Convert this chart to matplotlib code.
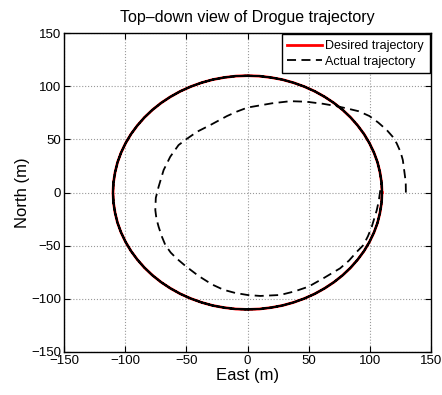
import numpy as np
import matplotlib
matplotlib.use("Agg")
import matplotlib.pyplot as plt

plt.rcParams['font.family'] = ['Liberation Sans', 'DejaVu Sans']

# desired circle (radius 110 m), read every 5 degrees, counter-clockwise from east
desired_east = [110, 109.6, 108.3, 106.3, 103.4, 99.7, 95.3, 90.1, 84.3, 77.8, 70.7, 63.1,
                55, 46.5, 37.6, 28.5, 19.1, 9.6, 0,
                -9.6, -19.1, -28.5, -37.6, -46.5, -55, -63.1, -70.7, -77.8, -84.3, -90.1,
                -95.3, -99.7, -103.4, -106.3, -108.3, -109.6, -110,
                -109.6, -108.3, -106.3, -103.4, -99.7, -95.3, -90.1, -84.3, -77.8, -70.7,
                -63.1, -55, -46.5, -37.6, -28.5, -19.1, -9.6, 0,
                9.6, 19.1, 28.5, 37.6, 46.5, 55, 63.1, 70.7, 77.8, 84.3, 90.1, 95.3, 99.7,
                103.4, 106.3, 108.3, 109.6, 110]
desired_north = [0, 9.6, 19.1, 28.5, 37.6, 46.5, 55, 63.1, 70.7, 77.8, 84.3, 90.1, 95.3,
                 99.7, 103.4, 106.3, 108.3, 109.6, 110,
                 109.6, 108.3, 106.3, 103.4, 99.7, 95.3, 90.1, 84.3, 77.8, 70.7, 63.1, 55,
                 46.5, 37.6, 28.5, 19.1, 9.6, 0,
                 -9.6, -19.1, -28.5, -37.6, -46.5, -55, -63.1, -70.7, -77.8, -84.3, -90.1,
                 -95.3, -99.7, -103.4, -106.3, -108.3, -109.6, -110,
                 -109.6, -108.3, -106.3, -103.4, -99.7, -95.3, -90.1, -84.3, -77.8, -70.7,
                 -63.1, -55, -46.5, -37.6, -28.5, -19.1, -9.6, 0]

# approach leg of the drogue before it settles onto the circle
approach_east = [129.5, 129.4, 128.8, 127, 125.2, 122, 118.5, 113.9, 107, 99.7, 91, 81.2,
                 72, 62, 48, 35, 20, 0, -8.5, -16.8, -30.5, -41.3, -50.3, -56.4, -63.2, -68.6,
                 -72.7, -75, -75.4, -74.5, -72.7, -70.2, -67.2, -62.8, -58, -50.3, -40,
                 -29, -19.6, -10, 0, 10.4, 26.7, 38.5, 49.8, 62, 75.7, 83, 89.4, 94.8,
                 98.5, 101.6, 105.7, 107.3, 108.3]
approach_north = [0, 8, 15, 30.6, 38, 46.3, 52.8, 58.8, 65.8, 72, 76.5, 79.2,
                  81.5, 83.5, 85.5, 86, 84, 80, 76.3, 72, 63.5, 57.2, 50, 44.7, 33.7, 21.2,
                  5.5, -5, -16.5, -24.5, -32.2, -41, -49.4, -56.5, -62, -69.5, -78.5,
                  -86.5, -91.5, -94.5, -96.4, -97.3, -96.4, -93, -88.6, -80.7, -71.3, -64, -55.7, -49.4,
                  -41, -32.2, -16.5, -8, 0]
n_loops = 4  # loops flown on the circle afterwards

actual_east = approach_east + desired_east[1:] * n_loops
actual_north = approach_north + desired_north[1:] * n_loops

ticks = [-150, -100, -50, 0, 50, 100, 150]

fig = plt.figure(figsize=(4.42, 3.95), dpi=100)
ax = fig.add_axes([0.145, 0.109, 0.83, 0.807])

ax.plot(desired_east, desired_north, color='red', lw=2.0, label='Desired trajectory')
ax.plot(actual_east, actual_north, color='black', lw=1.3, dashes=(5, 3),
        label='Actual trajectory')

ax.set_xlim(-150, 150)
ax.set_ylim(-150, 150)
ax.set_xticks(ticks)
ax.set_yticks(ticks)
ax.set_xticklabels([str(t).replace('-', '\u2212') for t in ticks])
ax.set_yticklabels([str(t).replace('-', '\u2212') for t in ticks])
ax.grid(True, linestyle=':', color='#999999', lw=0.8)
ax.tick_params(direction='in', top=True, right=True, length=4, labelsize=9.5, pad=2)
for s in ax.spines.values():
    s.set_linewidth(1.0)

ax.set_xlabel('East (m)', fontsize=12, labelpad=1)
ax.set_ylabel('North (m)', fontsize=12, labelpad=1)
ax.set_title('Top\u2013down view of Drogue trajectory', fontsize=11.5, pad=8)

leg = ax.legend(loc='upper right', fontsize=9, fancybox=False, framealpha=1,
                edgecolor='black', borderaxespad=0.1, handlelength=2.8,
                borderpad=0.45, labelspacing=0.3, handletextpad=0.25)
leg.get_frame().set_linewidth(1.0)

fig.savefig('out.png', dpi=100)
